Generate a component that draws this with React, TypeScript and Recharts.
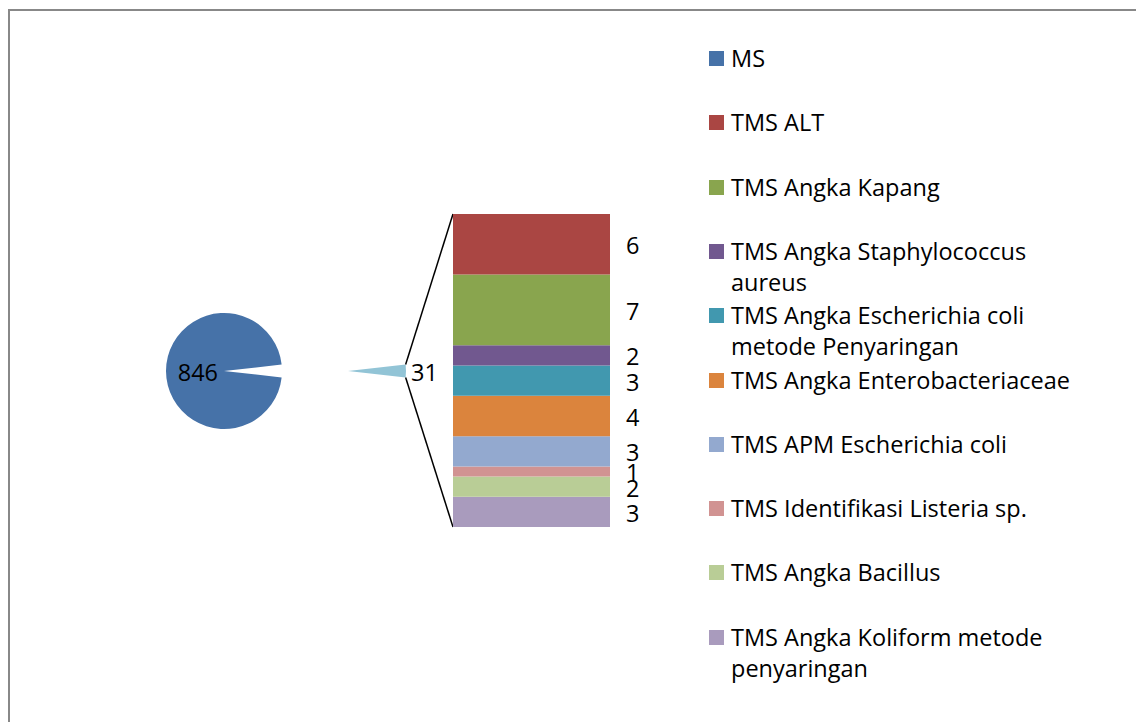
import React from 'react';
import { PieChart, Pie, Cell, BarChart, Bar, XAxis, YAxis, LabelList, Customized } from 'recharts';

// ---- data ----
const msLabel = 'MS';
const msValue = 846;
const otherLabel = 'TMS';
const tmsCategories = [
  'TMS ALT',
  'TMS Angka Kapang',
  'TMS Angka Staphylococcus aureus',
  'TMS Angka Escherichia coli metode Penyaringan',
  'TMS Angka Enterobacteriaceae',
  'TMS APM Escherichia coli',
  'TMS Identifikasi Listeria sp.',
  'TMS Angka Bacillus',
  'TMS Angka Koliform metode penyaringan',
];
const tmsValues = [6, 7, 2, 3, 4, 3, 1, 2, 3];
const msColor = '#4672A8';
const otherColor = '#92C4D6';
const tmsColors = ['#AA4643', '#89A54E', '#71588F', '#4198AF', '#DB843D', '#93A9CF', '#D19392', '#B9CD96', '#A99BBD'];

// ---- layout ----
const W = 1136;
const H = 722;
const FONT = '"Open Sans", sans-serif';
const FS = 23.5;
const pieCx = 224;
const pieCy = 371;
const pieR = 58;
const explode = 124;
const barLeft = 453;
const barRight = 610;
const barTop = 214;
const barBottom = 527;

const otherTotal = tmsValues.reduce((a, b) => a + b, 0);
const pieData = [
  { name: msLabel, value: msValue },
  { name: otherLabel, value: otherTotal },
];
const halfOther = (360 * otherTotal) / (msValue + otherTotal) / 2;
const barRow: Record<string, any> = { name: otherLabel };
tmsValues.forEach((v, i) => (barRow['k' + i] = v));
const barData = [barRow];
const legendLabels = [msLabel, ...tmsCategories];
const legendColors = [msColor, ...tmsColors];

const RAD = Math.PI / 180;

const mainLabel = (p: any) => {
  if (p.index !== 0) return null;
  const r = p.outerRadius * 0.45;
  const x = p.cx + r * Math.cos(-p.midAngle * RAD);
  const y = p.cy + r * Math.sin(-p.midAngle * RAD);
  return (
    <text x={x} y={y + 1} textAnchor="middle" dominantBaseline="central" fill="#000" fontSize={FS} fontFamily={FONT}>
      {p.value}
    </text>
  );
};

const otherLabelFn = (p: any) => {
  if (p.index !== 1) return null;
  const x = p.cx + p.outerRadius + 5;
  return (
    <text x={x} y={p.cy + 1} textAnchor="start" dominantBaseline="central" fill="#000" fontSize={FS} fontFamily={FONT}>
      {p.value}
    </text>
  );
};

const barLabel = (p: any) => {
  const { x, y, width, height, value } = p;
  return (
    <text x={Number(x) + Number(width) + 16} y={Number(y) + Number(height) / 2 + 1} textAnchor="start" dominantBaseline="central" fill="#000" fontSize={FS} fontFamily={FONT}>
      {value}
    </text>
  );
};

const Connectors = () => {
  const ox = pieCx + explode + pieR * Math.cos(halfOther * RAD);
  const dy = pieR * Math.sin(halfOther * RAD);
  return (
    <g>
      <line x1={ox} y1={pieCy - dy} x2={barLeft} y2={barTop} stroke="#000" strokeWidth={1.5} />
      <line x1={ox} y1={pieCy + dy} x2={barLeft} y2={barBottom} stroke="#000" strokeWidth={1.5} />
    </g>
  );
};

const Legend = () => (
  <div style={{ position: 'absolute', left: 709, top: 0 }}>
    {legendLabels.map((lab, i) => {
      const centerY = 58.5 + i * 64.3;
      return (
        <div key={lab} style={{ position: 'absolute', left: 0, top: centerY - 15.5, width: 420 }}>
          <div style={{ position: 'absolute', left: 0, top: 8, width: 15, height: 15, background: legendColors[i] }} />
          <div style={{ position: 'absolute', left: 22, top: 0, width: 355, fontFamily: FONT, fontSize: FS, lineHeight: '31px', color: '#000' }}>
            {lab}
          </div>
        </div>
      );
    })}
  </div>
);

export default function App() {
  return (
    <div style={{ position: 'fixed', left: 0, top: 0, width: W, height: H, overflow: 'hidden', background: '#fff' }}>
      <div style={{ position: 'absolute', left: 8, top: 9, width: 1200, height: 800, border: '2px solid #888888' }} />
      <div style={{ position: 'absolute', left: 0, top: 0 }}>
        <PieChart width={W} height={H} margin={{ top: 0, right: 0, bottom: 0, left: 0 }}>
          <Pie
            data={pieData}
            dataKey="value"
            nameKey="name"
            cx={pieCx}
            cy={pieCy}
            outerRadius={pieR}
            startAngle={halfOther}
            endAngle={halfOther + 360}
            stroke="none"
            label={mainLabel}
            labelLine={false}
            isAnimationActive={false}
          >
            <Cell fill={msColor} />
            <Cell fill="none" />
          </Pie>
          <Pie
            data={pieData}
            dataKey="value"
            nameKey="name"
            cx={pieCx + explode}
            cy={pieCy}
            outerRadius={pieR}
            startAngle={halfOther}
            endAngle={halfOther + 360}
            stroke="none"
            label={otherLabelFn}
            labelLine={false}
            isAnimationActive={false}
          >
            <Cell fill="none" />
            <Cell fill={otherColor} />
          </Pie>
        </PieChart>
      </div>
      <div style={{ position: 'absolute', left: 0, top: 0 }}>
        <BarChart
          width={W}
          height={H}
          data={barData}
          margin={{ top: barTop, right: W - barRight, bottom: H - barBottom, left: barLeft }}
          barCategoryGap={0}
          barGap={0}
        >
          <XAxis dataKey="name" type="category" hide />
          <YAxis type="number" domain={[0, otherTotal]} hide />
          {tmsValues
            .map((_, i) => i)
            .reverse()
            .map((i) => (
              <Bar
                key={i}
                dataKey={'k' + i}
                name={tmsCategories[i]}
                stackId="tms"
                fill={tmsColors[i]}
                stroke="none"
                isAnimationActive={false}
              >
                <LabelList dataKey={'k' + i} content={barLabel} />
              </Bar>
            ))}
          <Customized component={Connectors} />
        </BarChart>
      </div>
      <Legend />
    </div>
  );
}
